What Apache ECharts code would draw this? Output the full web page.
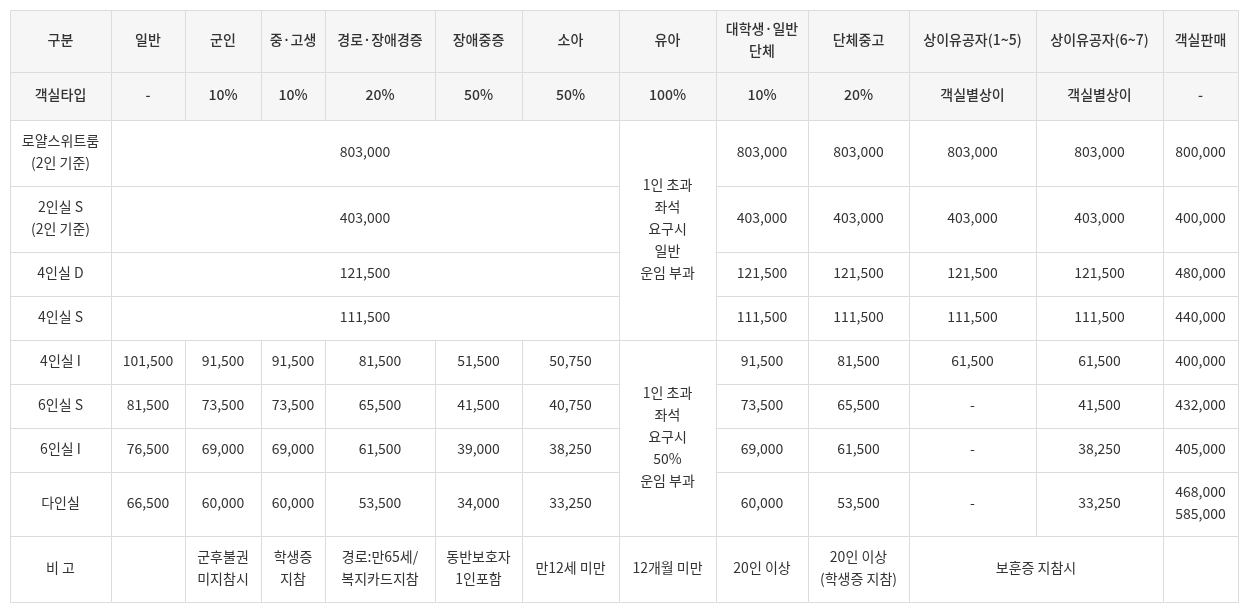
<!DOCTYPE html><html><head><meta charset="utf-8">
<script src="https://cdn.jsdelivr.net/npm/echarts@6/dist/echarts.min.js"></script>
<style>html,body{margin:0;background:#fff}#c{width:1248px;height:612px}</style></head><body><div id="c"></div>
<script>
const headers=['구분','일반','군인','중·고생','경로·장애경증','장애중증','소아','유아','대학생·일반\n단체','단체중고','상이유공자(1~5)','상이유공자(6~7)','객실판매'];
const discounts=['객실타입','-','10%','10%','20%','50%','50%','100%','10%','20%','객실별상이','객실별상이','-'];
const upperRooms=['로얄스위트룸\n(2인 기준)','2인실 S\n(2인 기준)','4인실 D','4인실 S'];
const upperShared=['803,000','403,000','121,500','111,500'];
const upperInfant='1인 초과\n좌석\n요구시\n일반\n운임 부과';
const upperRight=[
 ['803,000','803,000','803,000','803,000','800,000'],
 ['403,000','403,000','403,000','403,000','400,000'],
 ['121,500','121,500','121,500','121,500','480,000'],
 ['111,500','111,500','111,500','111,500','440,000']];
const lowerRooms=['4인실 I','6인실 S','6인실 I','다인실'];
const lowerLeft=[
 ['101,500','91,500','91,500','81,500','51,500','50,750'],
 ['81,500','73,500','73,500','65,500','41,500','40,750'],
 ['76,500','69,000','69,000','61,500','39,000','38,250'],
 ['66,500','60,000','60,000','53,500','34,000','33,250']];
const lowerInfant='1인 초과\n좌석\n요구시\n50%\n운임 부과';
const lowerRight=[
 ['91,500','81,500','61,500','61,500','400,000'],
 ['73,500','65,500','-','41,500','432,000'],
 ['69,000','61,500','-','38,250','405,000'],
 ['60,000','53,500','-','33,250','468,000\n585,000']];
const notes=['비 고','','군후불권\n미지참시','학생증\n지참','경로:만65세/\n복지카드지참','동반보호자\n1인포함','만12세 미만','12개월 미만','20인 이상','20인 이상\n(학생증 지참)','보훈증 지참시',''];

// layout
const colEdges=[10,111,185,261,325,435,522,619,716,808,909,1036,1163,1238];
const rowEdges=[10,72,120,186,252,296,340,384,428,472,536,602];

const cells=[];
headers.forEach((t,i)=>cells.push([i,0,1,1,t,1]));
discounts.forEach((t,i)=>cells.push([i,1,1,1,t,1]));
upperRooms.forEach((t,r)=>{
  cells.push([0,2+r,1,1,t,0]);
  cells.push([1,2+r,6,1,upperShared[r],0]);
  upperRight[r].forEach((v,j)=>cells.push([8+j,2+r,1,1,v,0]));
});
cells.push([7,2,1,4,upperInfant,0]);
lowerRooms.forEach((t,r)=>{
  cells.push([0,6+r,1,1,t,0]);
  lowerLeft[r].forEach((v,j)=>cells.push([1+j,6+r,1,1,v,0]));
  lowerRight[r].forEach((v,j)=>cells.push([8+j,6+r,1,1,v,0]));
});
cells.push([7,6,1,4,lowerInfant,0]);
notes.forEach((t,i)=>{
  if(i<10) cells.push([i,10,1,1,t,0]);
  else if(i===10) cells.push([10,10,2,1,t,0]);
  else cells.push([12,10,1,1,t,0]);
});

const chart=echarts.init(document.getElementById('c'));
chart.setOption({
  animation:false,
  grid:{left:0,right:0,top:0,bottom:0},
  xAxis:{type:'value',min:0,max:1248,show:false},
  yAxis:{type:'value',min:0,max:612,inverse:true,show:false},
  series:[{
    type:'custom',
    data:cells.map((c,i)=>[c[0],c[1],c[2],c[3],i]),
    renderItem:(params,api)=>{
      const c=cells[api.value(4)];
      const p0=api.coord([colEdges[c[0]],rowEdges[c[1]]]);
      const p1=api.coord([colEdges[c[0]+c[2]],rowEdges[c[1]+c[3]]]);
      return {type:'group',children:[
        {type:'rect',shape:{x:p0[0]+0.5,y:p0[1]+0.5,width:p1[0]-p0[0],height:p1[1]-p0[1]},
         style:{fill:c[5]?'#f6f6f6':'#fff',stroke:'#dcdcdc',lineWidth:1}},
        {type:'text',x:(p0[0]+p1[0])/2,y:(p0[1]+p1[1])/2-1,
         style:{text:c[4],align:'center',verticalAlign:'middle',fill:'#333',
           font:(c[5]?'500 ':'')+'14px "Noto Sans CJK KR","Noto Sans",sans-serif',lineHeight:22}}
      ]};
    }
  }]
});
</script></body></html>
